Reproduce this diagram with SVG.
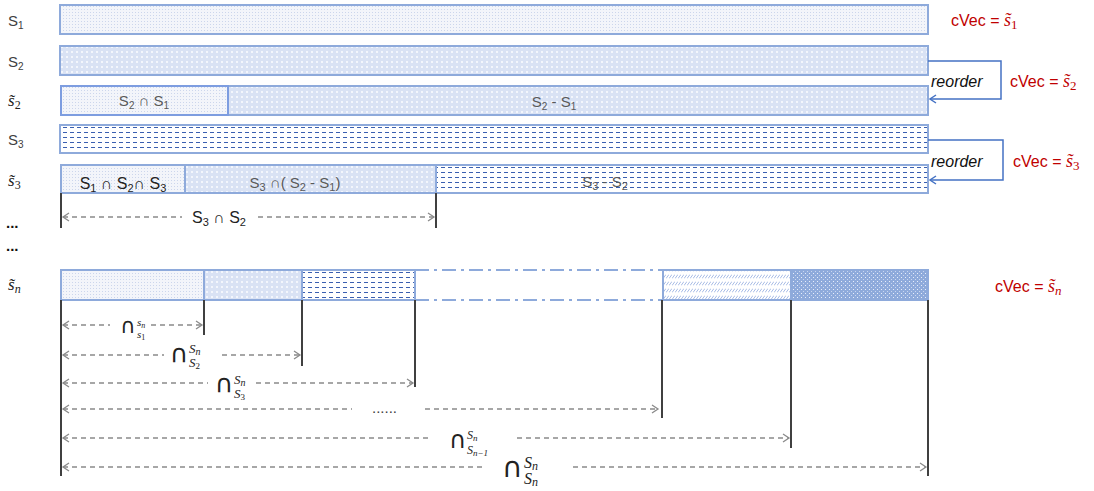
<svg xmlns="http://www.w3.org/2000/svg" width="1094" height="491" viewBox="0 0 1094 491">
<defs>
<style>
.lbl{font-family:"Liberation Sans",Arial,sans-serif;font-size:15px;fill:#404040}
.in{font-family:"Liberation Sans",Arial,sans-serif;font-size:15px;fill:#595959}
.inb{font-family:"Liberation Sans",Arial,sans-serif;font-size:16px;fill:#222}
.math{font-family:"Liberation Serif","DejaVu Serif",serif;font-style:italic;fill:#222}
.red{font-family:"Liberation Sans",Arial,sans-serif;font-size:16px;fill:#c00000}
.redm{font-family:"Liberation Serif","DejaVu Serif",serif;font-style:italic;font-size:18px;fill:#c00000}
.reo{font-family:"Liberation Sans",Arial,sans-serif;font-style:italic;font-size:16px;fill:#111}
.cap{font-family:"DejaVu Sans",sans-serif;fill:#222}
.dots{font-family:"Liberation Sans",Arial,sans-serif;font-weight:bold;font-size:15px;fill:#111}
.box{stroke:#8eaadb;stroke-width:2}
.vl{stroke:#404040;stroke-width:2}
.dim{stroke:#8a8a8a;stroke-width:1.3;stroke-dasharray:5 4;fill:none;marker-start:url(#aL);marker-end:url(#aR)}
.br{stroke:#4472c4;stroke-width:1.5;fill:none;marker-end:url(#aB)}
</style>
<pattern id="pDot" width="3" height="3" patternUnits="userSpaceOnUse">
<rect width="3" height="3" fill="#f3f5fa"/>
<rect width="1" height="1" fill="#ccd6ec"/>
</pattern>
<pattern id="pChk" width="5" height="5" patternUnits="userSpaceOnUse">
<rect width="5" height="5" fill="#d9e2f4"/>
<rect x="1" y="1" width="2" height="2" fill="#f3f6fc"/>
</pattern>
<pattern id="pDash" width="7" height="5" patternUnits="userSpaceOnUse">
<rect width="7" height="5" fill="#ffffff"/>
<rect x="0" y="2" width="4" height="1" fill="#3a5fb0"/>
</pattern>
<pattern id="pHatch" width="3" height="7" patternUnits="userSpaceOnUse">
<rect width="3" height="7" fill="#ffffff"/>
<path d="M0,5.5 L3,1.5" stroke="#a9bde6" stroke-width="1"/>
</pattern>
<pattern id="pDark" width="4" height="4" patternUnits="userSpaceOnUse">
<rect width="4" height="4" fill="#8eaadb"/>
<rect x="1" y="1" width="1" height="1" fill="#e8eefa"/>
<rect x="3" y="3" width="1" height="1" fill="#c9d6f0"/>
</pattern>
<marker id="aR" markerWidth="10" markerHeight="10" refX="8" refY="5" orient="auto" markerUnits="userSpaceOnUse">
<path d="M2,1 L8,5 L2,9" fill="none" stroke="#8a8a8a" stroke-width="1.3"/>
</marker>
<marker id="aL" markerWidth="10" markerHeight="10" refX="2" refY="5" orient="auto" markerUnits="userSpaceOnUse">
<path d="M8,1 L2,5 L8,9" fill="none" stroke="#8a8a8a" stroke-width="1.3"/>
</marker>
<marker id="aB" markerWidth="10" markerHeight="10" refX="8" refY="5" orient="auto" markerUnits="userSpaceOnUse">
<path d="M2,1 L8,5 L2,9" fill="none" stroke="#4472c4" stroke-width="1.5"/>
</marker>
</defs>
<rect width="1094" height="491" fill="#ffffff"/>

<g id="row-s1">
<rect class="box" x="60" y="5" width="868" height="29" fill="url(#pDot)"/>
<text class="lbl" x="8" y="26">S<tspan font-size="10" dy="3">1</tspan></text>
</g>

<g id="row-s2">
<rect class="box" x="60" y="46" width="868" height="29" fill="url(#pChk)"/>
<text class="lbl" x="8" y="67">S<tspan font-size="10" dy="3">2</tspan></text>
</g>

<g id="row-s2t">
<rect class="box" x="228" y="86" width="700" height="29" fill="url(#pChk)"/>
<rect x="61" y="86" width="167" height="29" fill="url(#pDot)" stroke="#7d9de0" stroke-width="2"/>
<text class="math" font-size="17" x="8" y="106">s&#x303;<tspan font-size="12" font-style="normal" dy="3">2</tspan></text>
<text class="in" x="144" y="106" text-anchor="middle">S<tspan font-size="10" dy="3">2</tspan><tspan dy="-3"> ∩ S</tspan><tspan font-size="10" dy="3">1</tspan></text>
<text class="in" x="554" y="107" text-anchor="middle">S<tspan font-size="10" dy="3">2</tspan><tspan dy="-3"> - S</tspan><tspan font-size="10" dy="3">1</tspan></text>
</g>

<g id="row-s3">
<rect class="box" x="60" y="125" width="868" height="28" fill="url(#pDash)"/>
<text class="lbl" x="8" y="145">S<tspan font-size="10" dy="3">3</tspan></text>
</g>

<g id="row-s3t">
<rect class="box" x="436" y="165" width="492" height="28" fill="url(#pDash)"/>
<rect class="box" x="185" y="165" width="251" height="28" fill="url(#pChk)"/>
<rect class="box" x="61" y="165" width="124" height="28" fill="url(#pDot)"/>
<text class="math" font-size="17" x="8" y="186">s&#x303;<tspan font-size="12" font-style="normal" dy="3">3</tspan></text>
<text class="inb" x="123" y="189" text-anchor="middle">S<tspan font-size="11" dy="3">1</tspan><tspan dy="-3"> ∩ S</tspan><tspan font-size="11" dy="3">2</tspan><tspan dy="-3">∩ S</tspan><tspan font-size="11" dy="3">3</tspan></text>
<text class="in" font-size="16" x="295" y="188" text-anchor="middle">S<tspan font-size="11" dy="3">3</tspan><tspan dy="-3"> ∩( S</tspan><tspan font-size="11" dy="3">2</tspan><tspan dy="-3"> - S</tspan><tspan font-size="11" dy="3">1</tspan><tspan dy="-3">)</tspan></text>
<text class="in" font-size="16" x="605" y="187" text-anchor="middle">S<tspan font-size="11" dy="3">3</tspan><tspan dy="-3"> - S</tspan><tspan font-size="11" dy="3">2</tspan></text>
</g>

<g id="ellipsis">
<text class="dots" x="6" y="228">...</text>
<text class="dots" x="6" y="251">...</text>
</g>

<g id="row-sn">
<rect class="box" x="61" y="270" width="143" height="30" fill="url(#pDot)"/>
<rect class="box" x="204" y="270" width="98" height="30" fill="url(#pChk)"/>
<rect class="box" x="302" y="270" width="113" height="30" fill="url(#pDash)"/>
<path d="M415,270 H662 M415,300 H662" stroke="#8eaadb" stroke-width="2" stroke-dasharray="14 5 3 5" fill="none"/>
<rect class="box" x="663" y="270" width="128" height="30" fill="url(#pHatch)"/>
<rect class="box" x="791" y="270" width="137" height="30" fill="url(#pDark)"/>
<text class="math" font-size="17" x="8" y="290">s&#x303;<tspan font-size="12" dy="3">n</tspan></text>
</g>

<g id="cvec-labels">
<text class="red" x="951" y="26">cVec = <tspan class="redm">s&#x303;<tspan font-size="13" font-style="normal" dy="3">1</tspan></tspan></text>
<text class="red" x="1010" y="87">cVec = <tspan class="redm">s&#x303;<tspan font-size="13" font-style="normal" dy="3">2</tspan></tspan></text>
<text class="red" x="1013" y="167">cVec = <tspan class="redm">s&#x303;<tspan font-size="13" font-style="normal" dy="3">3</tspan></tspan></text>
<text class="red" x="995" y="292">cVec = <tspan class="redm">s&#x303;<tspan font-size="13" dy="3">n</tspan></tspan></text>
</g>

<g id="connectors">
<path class="br" d="M928,61 H1001 V99 H930"/>
<path class="br" d="M928,140 H1003 V180 H930"/>
<text class="reo" x="931" y="87">reorder</text>
<text class="reo" x="931" y="167">reorder</text>

<line class="vl" x1="61" y1="193" x2="61" y2="228"/>
<line class="vl" x1="436" y1="193" x2="436" y2="228"/>
<path class="dim" d="M63,217 H182 M258,217 H434"/>
<text class="inb" x="219" y="223" text-anchor="middle">S<tspan font-size="11" dy="3">3</tspan><tspan dy="-3"> ∩ S</tspan><tspan font-size="11" dy="3">2</tspan></text>

<line class="vl" x1="61" y1="300" x2="61" y2="476"/>
<line class="vl" x1="204" y1="300" x2="204" y2="335"/>
<line class="vl" x1="302" y1="300" x2="302" y2="366"/>
<line class="vl" x1="415" y1="300" x2="415" y2="387"/>
<line class="vl" x1="662" y1="300" x2="662" y2="418"/>
<line class="vl" x1="791" y1="300" x2="791" y2="448"/>
<line class="vl" x1="928" y1="300" x2="928" y2="476"/>

<path class="dim" d="M63,325 H110 M151,325 H202"/>
<path class="dim" d="M63,355 H164 M222,355 H300"/>
<path class="dim" d="M63,383 H208 M256,383 H413"/>
<path class="dim" d="M63,409 H352 M425,409 H658"/>
<path class="dim" d="M63,438 H432 M517,438 H789"/>
<path class="dim" d="M63,467 H482 M573,467 H926"/>

<text class="cap" font-size="21" x="120" y="333">∩</text>
<text class="math" font-size="11" x="137" y="326">s<tspan font-size="8" dy="2">n</tspan></text>
<text class="math" font-size="11" x="137" y="338">s<tspan font-size="8" font-style="normal" dy="2">1</tspan></text>

<text class="cap" font-size="25" x="170" y="362">∩</text>
<text class="math" font-size="13" x="189" y="353">S<tspan font-size="10" dy="2">n</tspan></text>
<text class="math" font-size="13" x="189" y="367">S<tspan font-size="9" font-style="normal" dy="2">2</tspan></text>

<text class="cap" font-size="25" x="215" y="392">∩</text>
<text class="math" font-size="13" x="234" y="384">S<tspan font-size="10" dy="2">n</tspan></text>
<text class="math" font-size="13" x="234" y="398">S<tspan font-size="9" font-style="normal" dy="2">3</tspan></text>

<text class="lbl" font-size="12" x="372" y="413" fill="#808080">......</text>

<text class="cap" font-size="24" x="449" y="448">∩</text>
<text class="math" font-size="12" x="467" y="439">S<tspan font-size="9" dy="2">n</tspan></text>
<text class="math" font-size="12" x="467" y="454">S<tspan font-size="9" dy="2">n−1</tspan></text>

<text class="cap" font-size="28" x="502" y="477">∩</text>
<text class="math" font-size="16" x="524" y="468">S<tspan font-size="12" dy="2">n</tspan></text>
<text class="math" font-size="16" x="524" y="484">S<tspan font-size="12" dy="2">n</tspan></text>
</g>
</svg>
